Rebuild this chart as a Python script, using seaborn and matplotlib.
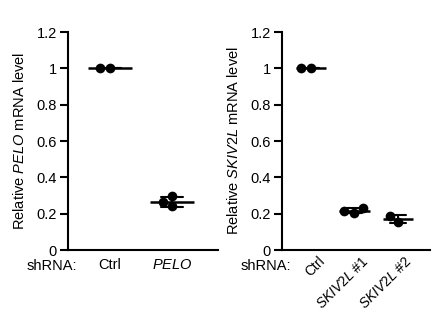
import pandas as pd
import seaborn as sns
import matplotlib.pyplot as plt
from matplotlib.transforms import ScaledTranslation

# values
pelo_groups = ['Ctrl', 'PELO']
pelo_ctrl = [1.0, 1.0]
pelo_kd = [0.295, 0.265, 0.24]

skiv_groups = ['Ctrl', 'SKIV2L #1', 'SKIV2L #2']
skiv_ctrl = [1.0, 1.0]
skiv_kd1 = [0.205, 0.215, 0.23]
skiv_kd2 = [0.155, 0.185]

pelo_ticklabels = ['Ctrl', r'$\mathit{PELO}$']
skiv_ticklabels = ['Ctrl', r'$\mathit{SKIV2L}$ #1', r'$\mathit{SKIV2L}$ #2']
yticks = [0, 0.2, 0.4, 0.6, 0.8, 1.0, 1.2]
yticklabels = ['0', '0.2', '0.4', '0.6', '0.8', '1', '1.2']

sns.set_style('ticks')
plt.rcParams['font.family'] = ['Liberation Sans', 'DejaVu Sans']
plt.rcParams['mathtext.fontset'] = 'custom'
plt.rcParams['mathtext.rm'] = 'Liberation Sans'
plt.rcParams['mathtext.it'] = 'Liberation Sans:italic'
for key in ['text.color', 'axes.labelcolor', 'xtick.color', 'ytick.color',
            'axes.edgecolor']:
    plt.rcParams[key] = 'black'

FS = 10.5


def make_df(groups, values):
    rows = []
    for g, vals in zip(groups, values):
        for v in vals:
            rows.append({'group': g, 'value': v})
    return pd.DataFrame(rows)


def draw_panel(ax, df, groups, ticklabels, ylabel, rotate, xlim):
    sns.swarmplot(data=df, x='group', y='value', order=groups, color='black',
                  size=7, ax=ax, zorder=3)
    sns.pointplot(data=df, x='group', y='value', order=groups, errorbar='sd',
                  capsize=0.36, color='black', linestyle='none', markersize=0,
                  err_kws={'linewidth': 1.5}, ax=ax)
    means = df.groupby('group')['value'].mean().reindex(groups)
    for i, m in enumerate(means):
        ax.hlines(m, i - 0.35, i + 0.35, color='black', linewidth=1.8, zorder=2)
    ax.set_ylim(0, 1.2)
    ax.set_xlim(*xlim)
    ax.set_yticks(yticks)
    ax.set_yticklabels(yticklabels, fontsize=FS)
    ax.set_xticks(range(len(groups)))
    if rotate:
        ax.set_xticklabels(ticklabels, fontsize=10, rotation=45, ha='right',
                           rotation_mode='anchor')
        ax.tick_params(axis='x', length=0, pad=3)
        shift = ScaledTranslation(5 / 72, 0, ax.figure.dpi_scale_trans)
        for lab in ax.get_xticklabels():
            lab.set_transform(lab.get_transform() + shift)
    else:
        ax.set_xticklabels(ticklabels, fontsize=FS)
        ax.tick_params(axis='x', length=0, pad=6)
    ax.tick_params(axis='y', length=6, width=1.5, pad=2)
    ax.set_xlabel('')
    ax.set_ylabel(ylabel, fontsize=FS, labelpad=7)
    for s in ['left', 'bottom']:
        ax.spines[s].set_linewidth(1.5)
    sns.despine(ax=ax)
    ax.text(0.06, -0.04, 'shRNA:', transform=ax.transAxes, ha='right',
            va='top', fontsize=FS)


fig = plt.figure(figsize=(4.36, 3.17), dpi=100)
ax1 = fig.add_axes([0.156, 0.211, 0.344, 0.688])
ax2 = fig.add_axes([0.647, 0.211, 0.339, 0.688])

draw_panel(ax1, make_df(pelo_groups, [pelo_ctrl, pelo_kd]), pelo_groups,
           pelo_ticklabels, r'Relative $\mathit{PELO}$ mRNA level', False,
           (-0.68, 1.74))
draw_panel(ax2, make_df(skiv_groups, [skiv_ctrl, skiv_kd1, skiv_kd2]),
           skiv_groups, skiv_ticklabels,
           r'Relative $\mathit{SKIV2L}$ mRNA level', True, (-0.66, 2.73))

fig.savefig('out.png', dpi=100)
